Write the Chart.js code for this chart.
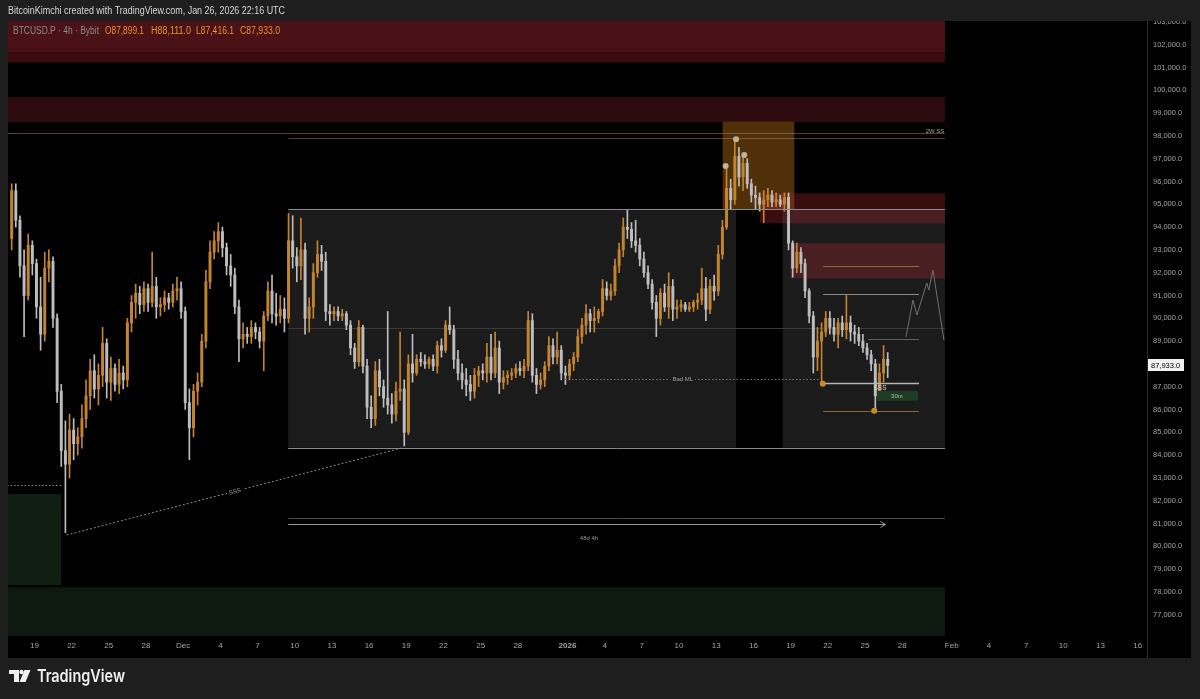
<!DOCTYPE html>
<html>
<head>
<meta charset="utf-8">
<script src="https://cdn.jsdelivr.net/npm/chart.js@4.4.1/dist/chart.umd.min.js"></script>
<style>
  html, body { margin: 0; padding: 0; background: #1e1e1e; }
  #wrap { position: relative; width: 1200px; height: 699px; }
</style>
</head>
<body>
<div id="wrap"><canvas id="btcChart" width="1200" height="699"></canvas></div>
<script>
// BTCUSD.P Bybit, read off the screenshot as 8h candles (Nov 17 2025 -> Jan 26 2026)
// open of each candle = close of the one before
const firstOpen = 93500;
const highs = [
  95900, 95900, 94500, 93000, 93700, 93400, 92600, 91800, 92900, 93000, 92700, 90200,
  87100, 85500, 85800, 85600, 85200, 86200, 87300, 88200, 88400, 88000, 89600, 89100,
  88300, 88000, 88200, 87900, 90000, 91000, 91500, 91400, 91600, 91500, 92900, 91800,
  90900, 91200, 91100, 91500, 91800, 91600, 90500, 86900, 87100, 87600, 89300, 92100,
  93400, 93800, 94200, 94000, 93300, 92800, 92200, 90800, 89800, 89600, 89900, 89800,
  89600, 90300, 91600, 91900, 91100, 91000, 90900, 94600, 94500, 93100, 94400, 93300,
  90900, 92400, 93400, 93200, 92900, 90600, 90500, 90500, 90400, 90300, 89900, 88900,
  89900, 89700, 88200, 86600, 88100, 88200, 87300, 90300, 86700, 87200, 89400, 87300,
  88400, 89300, 88400, 88500, 88400, 88300, 88400, 89000, 89100, 89900, 90500, 89700,
  88600, 88000, 87800, 87500, 87800, 87900, 88000, 88900, 89300, 89400, 89000, 87700,
  87700, 87800, 88000, 88100, 88200, 90300, 90200, 87800, 87600, 88100, 89200, 89100,
  89400, 88800, 87900, 88200, 88500, 89500, 90000, 90600, 90400, 90500, 90400, 91700,
  91600, 91500, 92600, 93300, 94400, 94750, 94200, 94300, 93500, 92900, 92300, 91700,
  91000, 91300, 91500, 92000, 91700, 90800, 90800, 90700, 90700, 90800, 91100, 92200,
  91800, 91700, 91900, 93200, 94300, 96700, 96100, 97800, 97500, 97200, 97000, 96100,
  95800, 95500, 95600, 95700, 95600, 95500, 95400, 95500, 95500, 93400, 93300, 93100,
  92600, 91300, 90300, 89600, 89800, 90300, 90300, 90000, 90000, 90100, 91000, 90100,
  89700, 89600, 89300, 88900, 88600, 88200, 88000, 88800, 88500
];
const lows = [
  93000, 94000, 91800, 89200, 90800, 91900, 90000, 88600, 89000, 91600, 89600, 86300,
  83500, 80600, 83000, 83800, 84000, 84300, 85200, 86000, 86500, 86200, 87000, 86500,
  86400, 86800, 86700, 86900, 87000, 89400, 90000, 90200, 90300, 90300, 90500, 90000,
  90100, 90300, 90400, 90500, 90800, 90000, 86000, 83800, 84800, 86200, 87000, 88700,
  91300, 92600, 92900, 92700, 91900, 91400, 90200, 88100, 88700, 88900, 88900, 89100,
  88700, 87700, 89900, 89800, 89700, 89800, 89400, 89800, 92200, 91600, 91700, 89300,
  89400, 90000, 91800, 92100, 89900, 89700, 89900, 89900, 89900, 89500, 88400, 87800,
  87900, 87600, 85600, 85200, 85300, 86600, 86100, 85800, 85400, 85500, 86400, 84400,
  84900, 87200, 87500, 87900, 87800, 87800, 87700, 87600, 88300, 88500, 89300, 87800,
  87300, 86900, 86600, 86400, 86500, 87000, 87300, 87200, 87300, 87400, 86700, 86900,
  87100, 87300, 87400, 87500, 87400, 87700, 87200, 86700, 86900, 87000, 87700, 88000,
  88000, 87300, 87100, 87300, 87700, 88100, 88900, 89300, 89400, 89400, 89800, 90100,
  90800, 90800, 91000, 92000, 92700, 93500, 93100, 92900, 92300, 91800, 91300, 90400,
  89200, 89700, 90300, 90000, 89900, 90000, 90300, 90300, 90300, 90300, 90400, 90600,
  89900, 90200, 90800, 91000, 92600, 93900, 94800, 95000, 95800, 95600, 95700, 95100,
  94800, 94700, 94200, 94900, 94900, 94900, 94900, 94700, 93000, 91800, 92000, 92000,
  90900, 89800, 87600, 87700, 87150, 89200, 89300, 89000, 88700, 89200, 89100, 89000,
  88900, 88800, 88500, 88200, 87700, 85950, 86400, 87200, 87400
];
const closes = [
  95600, 94300, 92300, 91000, 93200, 92400, 90500, 89300, 92200, 92500, 90000, 86800,
  84200, 83600, 85100, 84500, 84800, 85600, 86600, 87700, 86900, 87500, 88900, 87200,
  87800, 87100, 87600, 87300, 89800, 90700, 91100, 90600, 91300, 90700, 91400, 90500,
  90600, 90900, 90700, 91200, 91300, 90300, 86300, 85200, 86800, 87200, 89000, 91600,
  92900, 93400, 93800, 93100, 92300, 91900, 90500, 89100, 89300, 89200, 89600, 89400,
  89000, 90100, 91200, 90200, 90100, 90400, 90000, 93400, 92700, 92300, 93000, 90000,
  90500, 92000, 92800, 92500, 90300, 90200, 90300, 90100, 90200, 89700, 88700, 88100,
  89600, 87900, 86100, 85600, 87700, 87000, 86500, 86200, 85800, 86800, 86900, 85000,
  88000, 87600, 88200, 88100, 88000, 88200, 87900, 88800, 88600, 89700, 89500, 88200,
  87600, 87300, 87100, 86800, 87500, 87700, 87600, 88300, 87600, 88700, 87200, 87400,
  87500, 87600, 87800, 87700, 87900, 89900, 87500, 87100, 87300, 87900, 88800, 88300,
  88600, 87600, 87500, 88000, 88300, 89200, 89700, 90200, 89900, 90000, 90300, 91300,
  91000, 91200, 92300, 93000, 94000, 93900, 93400, 93200, 92600, 92000, 91500, 90700,
  90000, 91100, 90500, 91400, 90400, 90500, 90600, 90400, 90500, 90700, 90800, 91300,
  90400, 91400, 91200, 92800, 94000, 95700, 95200, 97100, 96200, 96800, 95900, 95400,
  95300, 95000, 95200, 95400, 95100, 95200, 95000, 95300, 93300, 92200, 92900, 92400,
  91200, 90100, 88300, 89000, 89400, 90000, 89600, 89300, 89800, 89500, 89800, 89400,
  89300, 89000, 88700, 88400, 88000, 86600, 87600, 88200, 87933
];

// x axis counts days from Nov 19 2025 00:00 UTC
const firstCandleDay = -2;
const candleDays = 1 / 3;
const tickDays = [0, 3, 6, 9, 12, 15, 18, 21, 24, 27, 30, 33, 36, 39, 43, 46, 49, 52, 55, 58, 61, 64, 67, 70, 74, 77, 80, 83, 86, 89];
const tickLabels = ['19', '22', '25', '28', 'Dec', '4', '7', '10', '13', '16', '19', '22', '25', '28', '2026', '4', '7', '10', '13', '16', '19', '22', '25', '28', 'Feb', '4', '7', '10', '13', '16'];
const priceTicks = [77000, 78000, 79000, 80000, 81000, 82000, 83000, 84000, 85000, 86000, 87000, 88000, 89000,
  90000, 91000, 92000, 93000, 94000, 95000, 96000, 97000, 98000, 99000, 100000, 101000, 102000, 103000];
const lastPrice = 87933;

// drawings: [from day, to day, top price, bottom price]
const supplyTop = [-2.2, 73.45, 103100, 101220];
const supplyTopCore = [-2.2, 73.45, 103100, 101680];
const supplyMid = [-2.2, 73.45, 99706, 98610];
const sweepBox = [55.52, 61.3, 98623, 94781];
const gapUpper = [58.53, 73.45, 95482, 94167];
const gapLower = [61.0, 73.45, 93290, 91754];
const rangeLeft = [20.48, 56.6, 94781, 84325];
const rangeRight = [60.36, 73.45, 94781, 84325];
const demandLeft = [-2.2, 2.15, 82290, 78303];
const demandLow = [-2.2, 73.45, 78202, 75000];
const tfBox = [67.97, 71.28, 86811, 86386];

// lines: [from day, to day, price at start, price at end]
const weeklyHigh = [-2.2, 73.45, 98140, 98140];
const weeklySS = [20.48, 73.45, 97895, 97895];
const rangeTop = [20.48, 73.45, 94781, 94781];
const rangeBottom = [20.48, 73.45, 84325, 84325];
const rangeMid = [20.48, 73.45, 89561, 89561];
const badML = [42.8, 63.4, 87325, 87325];
const sssTrend = [2.6, 29.73, 80496, 84325];
const leftLevel = [-2.2, 2.23, 82689, 82689];
const rulerLine = [20.48, 73.45, 81228, 81228];
const rulerArrow = [20.48, 68.65, 80978, 80978];
const planHigh = [63.63, 71.36, 92294, 92294];
const planMid = [63.63, 71.36, 91066, 91066];
const planShort = [67.24, 71.36, 89079, 89079];
const planSSS = [63.63, 71.36, 87149, 87149];
const planLow = [63.63, 71.36, 85934, 85934];
const projection = [[70.31, 89180], [70.87, 90803], [71.19, 90145], [71.99, 91548], [72.15, 91241], [72.48, 92118], [73.37, 89048]];
const highDots = [[55.76, 96680], [56.6, 97851], [57.26, 97162]];
const lowDots = [[63.6, 87127], [67.75, 85947]];

const opens = closes.map((c, i) => i === 0 ? firstOpen : closes[i - 1]);
const candleX = closes.map((c, i) => firstCandleDay + (i + 0.5) * candleDays);
const upColor = '#c4842f';
const downColor = '#bdbdbd';
const barColors = closes.map((c, i) => c >= opens[i] ? upColor : downColor);

function toPx(chart, d, p) {
  return [chart.scales.x.getPixelForValue(d), chart.scales.y.getPixelForValue(p)];
}

function fillZone(chart, z, color) {
  const [x0, y0] = toPx(chart, z[0], z[2]);
  const [x1, y1] = toPx(chart, z[1], z[3]);
  chart.ctx.fillStyle = color;
  chart.ctx.fillRect(x0, y0, x1 - x0, y1 - y0);
}

function drawLevel(chart, l, color, dash, width) {
  const ctx = chart.ctx;
  let [x0, y0] = toPx(chart, l[0], l[2]);
  let [x1, y1] = toPx(chart, l[1], l[3]);
  if (l[2] === l[3]) { y0 = y1 = Math.round(y0) + 0.5; }
  ctx.save();
  ctx.strokeStyle = color;
  ctx.lineWidth = width || 1;
  ctx.setLineDash(dash || []);
  ctx.beginPath();
  ctx.moveTo(x0, y0);
  ctx.lineTo(x1, y1);
  ctx.stroke();
  ctx.restore();
}

function note(chart, text, d, p, color, size, angle, bg) {
  const ctx = chart.ctx;
  const [x, y] = toPx(chart, d, p);
  ctx.save();
  ctx.translate(x, y);
  if (angle) ctx.rotate(angle);
  ctx.font = size + 'px "Liberation Sans"';
  ctx.textAlign = 'center';
  ctx.textBaseline = 'middle';
  if (bg) {
    const w = ctx.measureText(text).width + 4;
    ctx.fillStyle = bg;
    ctx.fillRect(-w / 2, -size / 2 - 1, w, size + 2);
  }
  ctx.fillStyle = color;
  ctx.fillText(text, 0, 0);
  ctx.restore();
}

function dot(chart, pt, color, r) {
  const [x, y] = toPx(chart, pt[0], pt[1]);
  chart.ctx.fillStyle = color;
  chart.ctx.beginPath();
  chart.ctx.arc(x, y, r, 0, Math.PI * 2);
  chart.ctx.fill();
}

const drawings = {
  id: 'drawings',
  beforeDraw(chart) {
    chart.ctx.fillStyle = '#000';
    chart.ctx.fillRect(8, 21, 1183, 637);
  },
  beforeDatasetsDraw(chart) {
    const ctx = chart.ctx, a = chart.chartArea;
    ctx.save();
    ctx.beginPath();
    ctx.rect(a.left, a.top, a.right - a.left, a.bottom - a.top);
    ctx.clip();
    fillZone(chart, supplyTop, '#3a0c10');
    fillZone(chart, supplyTopCore, '#4a1216');
    fillZone(chart, supplyMid, '#2c0a0d');
    fillZone(chart, rangeLeft, '#1b1b1b');
    fillZone(chart, rangeRight, '#1b1b1b');
    fillZone(chart, sweepBox, 'rgba(190,115,20,0.42)');
    fillZone(chart, gapUpper, 'rgba(170,40,50,0.32)');
    fillZone(chart, gapLower, 'rgba(170,40,50,0.32)');
    fillZone(chart, demandLeft, '#0f1f12');
    fillZone(chart, demandLow, '#0e1a10');
    drawLevel(chart, rangeMid, '#3a3a3a');
    drawLevel(chart, rulerLine, '#4a4a4a');
    ctx.restore();
  },
  afterDatasetsDraw(chart) {
    const ctx = chart.ctx, a = chart.chartArea;
    ctx.save();
    ctx.beginPath();
    ctx.rect(a.left, a.top, a.right - a.left, a.bottom - a.top);
    ctx.clip();
    drawLevel(chart, weeklyHigh, 'rgba(200,140,140,0.45)');
    drawLevel(chart, weeklySS, 'rgba(200,130,110,0.45)');
    drawLevel(chart, rangeTop, '#8a8a8a');
    drawLevel(chart, rangeBottom, '#8a8a8a');
    drawLevel(chart, badML, '#7a7a7a', [1.5, 2]);
    drawLevel(chart, sssTrend, '#8a8a8a', [2, 2]);
    drawLevel(chart, leftLevel, '#8a8a8a', [1.5, 2]);
    drawLevel(chart, rulerArrow, '#9a9a9a');
    // arrow head at the end of the ruler
    const [ax, ay0] = toPx(chart, rulerArrow[1], rulerArrow[3]);
    const ay = Math.round(ay0) + 0.5;
    ctx.strokeStyle = '#9a9a9a';
    ctx.lineWidth = 1;
    ctx.beginPath();
    ctx.moveTo(ax - 5, ay - 3); ctx.lineTo(ax, ay); ctx.lineTo(ax - 5, ay + 3);
    ctx.stroke();

    drawLevel(chart, planHigh, '#8c6a3c');
    drawLevel(chart, planMid, '#8a8a8a');
    drawLevel(chart, planShort, '#5e5e5e');
    drawLevel(chart, planSSS, '#b4b4b4', null, 1.5);
    drawLevel(chart, planLow, '#8c6530');
    fillZone(chart, tfBox, '#1f3b26');

    ctx.strokeStyle = '#6e6e6e';
    ctx.lineWidth = 1;
    ctx.beginPath();
    projection.forEach((pt, i) => {
      const [x, y] = toPx(chart, pt[0], pt[1]);
      if (i === 0) ctx.moveTo(x, y); else ctx.lineTo(x, y);
    });
    ctx.stroke();

    highDots.forEach(pt => dot(chart, pt, '#bfb39a', 3));
    lowDots.forEach(pt => dot(chart, pt, '#c98a2a', 3));

    const [sx0, sy0] = toPx(chart, sssTrend[0], sssTrend[2]);
    const [sx1, sy1] = toPx(chart, sssTrend[1], sssTrend[3]);
    note(chart, 'SSS', 16.18, 82395, '#b0b0b0', 6, Math.atan2(sy1 - sy0, sx1 - sx0), '#000');
    note(chart, 'Bad ML', 52.3, 87325, '#a0a0a0', 6, 0, '#1b1b1b');
    note(chart, '48d 4h', 44.74, 80364, '#9a9a9a', 6);
    note(chart, '2W SS', 72.65, 98215, '#b0a0a0', 6);
    note(chart, 'SSS', 68.21, 86943, '#d8d8d8', 6.5);
    note(chart, '30m', 69.58, 86598, '#9fc8a0', 6);
    ctx.restore();
  },
  afterDraw(chart) {
    const ctx = chart.ctx;
    // header band over the chart top
    ctx.fillStyle = '#1e1e1e';
    ctx.fillRect(0, 0, 1200, 21);
    ctx.textBaseline = 'middle';
    ctx.textAlign = 'left';
    ctx.font = '10px "Liberation Sans"';
    ctx.fillStyle = '#d6d6d6';
    ctx.fillText('BitcoinKimchi created with TradingView.com, Jan 26, 2026 22:16 UTC', 8, 11, 277);
    ctx.fillStyle = '#8a8a8a';
    ctx.fillText('BTCUSD.P \u00b7 4h \u00b7 Bybit', 13, 31, 86);
    ctx.fillStyle = '#e8912d';
    ctx.fillText('O87,899.1', 105, 31, 39);
    ctx.fillText('H88,111.0', 151, 31, 40);
    ctx.fillText('L87,416.1', 196, 31, 38);
    ctx.fillText('C87,933.0', 240, 31, 40);

    // axis separator
    ctx.fillStyle = '#2a2a2a';
    ctx.fillRect(1147, 21, 1, 637);
    // last price tag
    const y = Math.round(chart.scales.y.getPixelForValue(lastPrice));
    ctx.fillStyle = '#f2f2f2';
    ctx.fillRect(1148, y - 6, 36, 12);
    ctx.fillStyle = '#000';
    ctx.font = '7.5px "Liberation Sans"';
    ctx.fillText(lastPrice.toLocaleString('en-US', { minimumFractionDigits: 1 }), 1151, y + 0.5);

    // TradingView logo
    ctx.fillStyle = '#f0f0f0';
    ctx.fillRect(9, 670, 10, 4);
    ctx.fillRect(14, 670, 5, 12);
    ctx.beginPath();
    ctx.arc(21.5, 672, 2.2, 0, Math.PI * 2);
    ctx.fill();
    ctx.beginPath();
    ctx.moveTo(24.5, 670); ctx.lineTo(30.5, 670); ctx.lineTo(25.5, 682); ctx.lineTo(19.5, 682);
    ctx.closePath();
    ctx.fill();
    ctx.font = '600 17px Inter';
    ctx.fillText('TradingView', 37, 677, 88);
  }
};

const canvas = document.getElementById('btcChart');
const chart = new Chart(canvas.getContext('2d'), {
  type: 'bar',
  data: {
    datasets: [
      {
        label: 'wick',
        data: closes.map((c, i) => ({ x: candleX[i], y: [lows[i], highs[i]] })),
        backgroundColor: barColors,
        barThickness: 1,
        grouped: false
      },
      {
        label: 'body',
        data: closes.map((c, i) => ({ x: candleX[i], y: [opens[i], closes[i]] })),
        backgroundColor: barColors,
        barThickness: 2.3,
        minBarLength: 1,
        grouped: false
      }
    ]
  },
  options: {
    responsive: false,
    devicePixelRatio: 1,
    animation: false,
    events: [],
    layout: { padding: { left: 8, top: 21, right: 9, bottom: 41 } },
    plugins: { legend: { display: false }, tooltip: { enabled: false } },
    scales: {
      x: {
        type: 'linear',
        offset: false,
        min: -2.13,
        max: 89.75,
        grid: { display: false, drawTicks: false },
        border: { display: false },
        afterBuildTicks: s => { s.ticks = tickDays.map(v => ({ value: v })); },
        afterFit: s => { s.height = 22; },
        ticks: {
          color: '#a3a3a3',
          padding: 5,
          maxRotation: 0,
          autoSkip: false,
          font: c => ({ family: 'Liberation Sans', size: 8, weight: c.tick && c.tick.value === 43 ? 'bold' : 'normal' }),
          callback: v => tickLabels[tickDays.indexOf(v)]
        }
      },
      y: {
        type: 'linear',
        position: 'right',
        min: 76066,
        max: 103040,
        grid: { display: false, drawTicks: false },
        border: { display: false },
        afterBuildTicks: s => { s.ticks = priceTicks.map(v => ({ value: v })); },
        afterFit: s => { s.width = 44; },
        ticks: {
          color: '#a3a3a3',
          padding: 6,
          font: { family: 'Liberation Sans', size: 7.5 },
          callback: v => v.toLocaleString('en-US', { minimumFractionDigits: 1 })
        }
      }
    }
  },
  plugins: [drawings]
});
</script>
</body>
</html>
